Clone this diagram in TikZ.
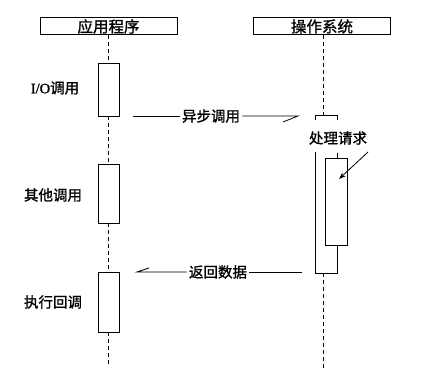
\documentclass[tikz,border=0pt]{standalone}
\usepackage{fontspec}
\setmainfont{Liberation Serif}
\newfontfamily\cjk[FakeBold=1.2]{Noto Sans CJK SC}
\newfontfamily\latinlbl[FakeBold=1.2]{Liberation Serif}
\usetikzlibrary{arrows.meta}
\begin{document}
\begin{tikzpicture}[x=1pt,y=-1pt,line width=0.8pt,
  headbox/.style={draw, line width=1pt, minimum width=137pt, minimum height=17pt, inner sep=0pt, font=\cjk\fontsize{15.5}{15.5}\selectfont},
  actbox/.style={draw, line width=0.8pt, minimum width=21pt, inner sep=0pt},
  lifeline/.style={dash pattern=on 4pt off 3pt, line width=0.8pt},
  lbl/.style={font=\cjk\fontsize{14.5}{15}\selectfont, inner sep=2pt}]
\useasboundingbox (0,0) rectangle (426,377);
% headers
\node[headbox] (app) at (108.5,26.5) {应用程序};
\node[headbox] (os) at (322,26.5) {操作系统};
% application activations
\node[actbox, minimum height=53pt] (a1) at (108.5,89.5) {};
\node[actbox, minimum height=59pt] (a2) at (108.5,193.5) {};
\node[actbox, minimum height=60pt] (a3) at (108.5,302) {};
\coordinate (append) at (108.5,366);
\draw[lifeline] (app.south) -- (a1.north);
\draw[lifeline] (a1.south) -- (a2.north);
\draw[lifeline] (a2.south) -- (a3.north);
\draw[lifeline] (a3.south) -- (append);
% left labels
\node[lbl] (l1) at (55,88) {{\latinlbl I/O}调用};
\node[lbl] (l2) at (53,195) {其他调用};
\node[lbl] (l3) at (53,302) {执行回调};
% OS side
\coordinate (ostop) at (323,115);
\coordinate (osbot) at (323,273);
\coordinate (osend) at (323,368);
\draw[lifeline] (os.south -| ostop) -- (ostop);
\draw (315,120) -- (315,115) -- (337,115) -- (337,120);
\node[lbl] (proc) at (338,138) {处理请求};
\node[actbox, minimum width=22pt, minimum height=87pt] (inner) at (336,201.5) {};
\draw (315,152) -- (315,273) -- (337,273) -- (337,245);
\draw (337,153) -- (337,158);
\draw[lifeline] (osbot) -- (osend);
\coordinate (pa) at (368,152);
\coordinate (pb) at (339,179);
\draw[-{Stealth[length=7pt,width=5pt]}] (pa) -- (pb);
% async call
\coordinate (c1) at (133,116);
\node[lbl] (async) at (211,116) {异步调用};
\coordinate (c2) at (298,116);
\draw (c1) -- (async);
\draw (async) -- (c2) -- ++(-15,6);
% return data
\coordinate (r1) at (302,272);
\node[lbl] (ret) at (218,272) {返回数据};
\coordinate (r2) at (137,272);
\draw (r1) -- (ret);
\draw (ret) -- (r2) -- ++(12,-4);
\end{tikzpicture}
\end{document}
